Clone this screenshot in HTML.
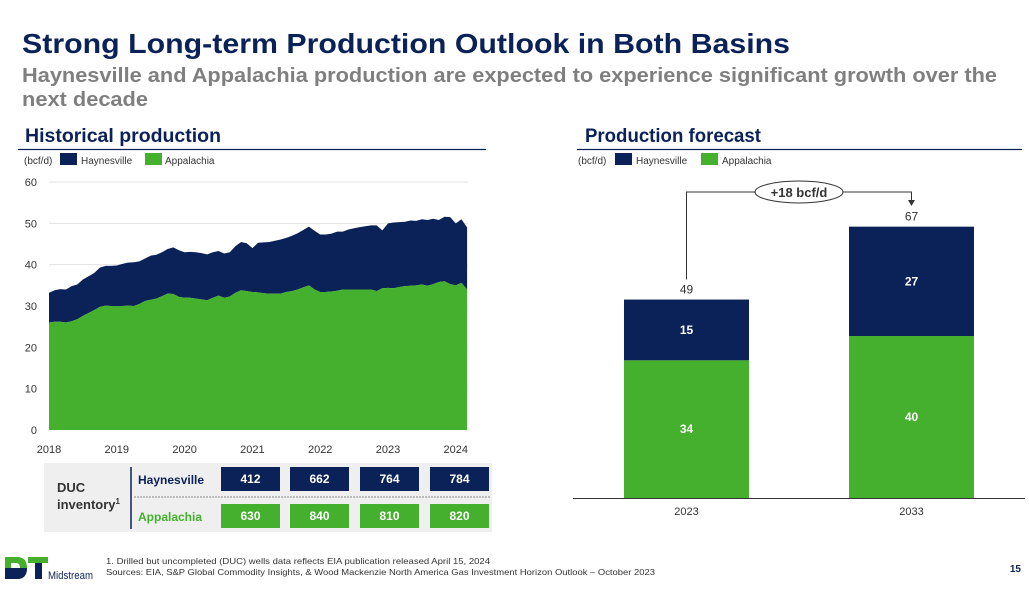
<!DOCTYPE html>
<html><head><meta charset="utf-8"><style>
html,body{margin:0;padding:0;background:#fff;}
svg{display:block;font-family:"Liberation Sans",sans-serif;}
</style></head><body>
<svg id="page" width="1029" height="606" viewBox="0 0 1029 606" xmlns="http://www.w3.org/2000/svg">
<text x="22" y="53" font-size="28" font-weight="bold" fill="#0b2259" textLength="768" lengthAdjust="spacingAndGlyphs">Strong Long-term Production Outlook in Both Basins</text>
<text x="22" y="82" font-size="20" font-weight="bold" fill="#7f7f7f" textLength="975" lengthAdjust="spacingAndGlyphs">Haynesville and Appalachia production are expected to experience significant growth over the</text>
<text x="22" y="106" font-size="20" font-weight="bold" fill="#7f7f7f" textLength="126" lengthAdjust="spacingAndGlyphs">next decade</text>

<text x="25" y="142" font-size="19" font-weight="bold" fill="#0b2259" textLength="196" lengthAdjust="spacingAndGlyphs">Historical production</text>
<line x1="18" y1="149.5" x2="486" y2="149.5" stroke="#0b2259" stroke-width="1.2"/>
<text x="585" y="142" font-size="19" font-weight="bold" fill="#0b2259" textLength="176" lengthAdjust="spacingAndGlyphs">Production forecast</text>
<line x1="577" y1="149.5" x2="1022" y2="149.5" stroke="#0b2259" stroke-width="1.2"/>

<g font-size="10" fill="#333">
<text x="24" y="164">(bcf/d)</text>
<rect x="60" y="153" width="17" height="12" fill="#0b2259"/><text x="81" y="164">Haynesville</text>
<rect x="145" y="153" width="17" height="12" fill="#44b02d"/><text x="165" y="164">Appalachia</text>
</g>
<g font-size="10" fill="#333">
<text x="578" y="164">(bcf/d)</text>
<rect x="615" y="153" width="17" height="12" fill="#0b2259"/><text x="636" y="164">Haynesville</text>
<rect x="701" y="153" width="17" height="12" fill="#44b02d"/><text x="722" y="164">Appalachia</text>
</g>

<g id="hist"></g>
<g id="fc"></g>

<g>
<rect x="44" y="463" width="448" height="69" fill="#efefef"/>
<line x1="131" y1="467" x2="131" y2="529" stroke="#0b2259" stroke-width="1.5"/>
<line x1="134" y1="497" x2="491" y2="497" stroke="#888" stroke-width="1" stroke-dasharray="2,1"/>
<text x="57" y="492" font-size="13" font-weight="bold" fill="#333">DUC</text>
<text x="57" y="509" font-size="13" font-weight="bold" fill="#333">inventory<tspan font-size="8" dy="-5">1</tspan></text>
<text x="138" y="484" font-size="12" font-weight="bold" fill="#0b2259">Haynesville</text>
<text x="138" y="521" font-size="12" font-weight="bold" fill="#44b02d">Appalachia</text>
<g id="duc"></g>
</g>

<g>
<path d="M5 557 h12 q10 0 10 11 q0 11 -10 11 h-12 z M11 563 v10 h5 q4 0 4 -5 q0 -5 -4 -5 z" fill="#44b02d" fill-rule="evenodd"/>
<rect x="5" y="568" width="22" height="11" fill="#0b2259" opacity="0"/>
<path d="M5 568 h22 q0 11 -10 11 h-12 z" fill="#0b2259"/>
<rect x="28" y="557" width="20" height="6" fill="#44b02d"/>
<rect x="35" y="563" width="7" height="16" fill="#0b2259"/>
<text x="48" y="579" font-size="11" fill="#0b2259" textLength="45" lengthAdjust="spacingAndGlyphs">Midstream</text>
</g>
<text x="106" y="564" font-size="8.5" fill="#333" textLength="384" lengthAdjust="spacingAndGlyphs">1. Drilled but uncompleted (DUC) wells data reflects EIA publication released April 15, 2024</text>
<text x="106" y="575" font-size="8.5" fill="#333" textLength="549" lengthAdjust="spacingAndGlyphs">Sources: EIA, S&amp;P Global Commodity Insights, &amp; Wood Mackenzie North America Gas Investment Horizon Outlook – October 2023</text>
<text x="1021" y="572" font-size="10" font-weight="bold" fill="#0b2259" text-anchor="end">15</text>
</svg>
<script>
// Historical monthly production, Jan 2018 - Mar 2024 (bcf/d)
const histStartYear = 2018;
const histAppalachia = [
26.0,26.2,26.2,26.0,26.3,26.8,27.6,28.3,29.0,29.8,30.1,30.0,
30.0,30.0,30.1,30.0,30.5,31.2,31.5,31.8,32.4,33.0,32.9,32.2,
32.0,32.0,31.8,31.6,31.4,32.0,32.5,32.0,32.3,33.2,33.8,33.6,
33.4,33.3,33.1,33.0,33.0,33.0,33.4,33.6,34.0,34.5,35.0,34.0,
33.4,33.4,33.5,33.7,34.0,34.0,34.0,34.0,34.0,34.0,33.6,34.3,
34.4,34.3,34.6,34.8,34.9,35.0,35.2,34.9,35.3,35.8,36.0,35.3,
35.0,35.6,34.0];
const histHaynesville = [
7.2,7.6,7.9,8.0,8.5,8.4,8.8,8.9,9.0,9.5,9.6,9.7,
9.8,10.2,10.4,10.6,10.3,10.3,10.7,10.6,10.6,10.8,11.3,11.3,
11.0,11.1,11.2,11.2,11.1,11.0,10.8,10.7,10.7,11.3,11.7,11.6,
10.6,12.0,12.3,12.5,12.8,13.1,13.1,13.4,13.6,13.9,14.2,14.2,
13.9,13.9,14.0,14.3,14.0,14.5,14.8,15.1,15.3,15.5,15.9,14.0,
15.6,15.9,15.7,15.6,15.8,15.6,15.8,15.9,15.8,15.0,15.6,16.2,
15.0,15.4,15.0];
const histYTicks = [0,10,20,30,40,50,60];
const histXTicks = [2018,2019,2020,2021,2022,2023,2024];

// Forecast
const fcCategories = ["2023","2033"];
const fcAppalachia = [34,40];
const fcHaynesville = [15,27];
const fcTotals = [49,67];
const fcDelta = "+18 bcf/d";

// DUC inventory
const ducHaynesville = [412,662,764,784];
const ducAppalachia = [630,840,810,820];

const NS="http://www.w3.org/2000/svg";
function mk(tag,attrs,parent,text){const e=document.createElementNS(NS,tag);for(const k in attrs)e.setAttribute(k,attrs[k]);if(text!==undefined)e.textContent=text;parent.appendChild(e);return e;}

// Historical chart
const hist=document.getElementById('hist');
const hx=yr=>49+(yr-2018)*67.8;
const hy=v=>430-v*4.133;
histYTicks.forEach(t=>{
  if(t>0){const g=mk('line',{x1:49,x2:468,y1:hy(t),y2:hy(t),stroke:'#e3e3e3','stroke-width':1},hist);
  
  }
  const l=mk('text',{x:37,y:hy(t)+4,'font-size':11,fill:'#333','text-anchor':'end'},hist,String(t));
  
  
});
histXTicks.forEach(t=>{
  const l=mk('text',{x:hx(t),y:453,'font-size':11,fill:'#333','text-anchor':'middle'},hist,String(t));
  
  
});
const n=histAppalachia.length;
const xs=histAppalachia.map((_,i)=>hx(histStartYear+i/12));
let appPts=[],totPts=[];
for(let i=0;i<n;i++){appPts.push(xs[i]+','+hy(histAppalachia[i]));totPts.push(xs[i]+','+hy(histAppalachia[i]+histHaynesville[i]));}
const hayArea=mk('polygon',{points:totPts.join(' ')+' '+appPts.slice().reverse().join(' '),fill:'#0b2259'},hist);


const appArea=mk('polygon',{points:appPts.join(' ')+' '+xs[n-1]+','+hy(0)+' '+xs[0]+','+hy(0),fill:'#44b02d'},hist);



// Forecast chart
const fc=document.getElementById('fc');
const fx=[624,849], bw=125, base=498, k=4.05;
const fy=v=>base-v*k;
fcCategories.forEach((c,i)=>{
  const a=mk('rect',{x:fx[i],y:fy(fcAppalachia[i]),width:bw,height:fcAppalachia[i]*k,fill:'#44b02d'},fc);
  
  
  const h=mk('rect',{x:fx[i],y:fy(fcAppalachia[i]+fcHaynesville[i]),width:bw,height:fcHaynesville[i]*k,fill:'#0b2259'},fc);
  
  
  const cx=fx[i]+bw/2;
  const la=mk('text',{x:cx,y:fy(fcAppalachia[i]/2)+4,'font-size':12,'font-weight':'bold',fill:'#fff','text-anchor':'middle'},fc,String(fcAppalachia[i]));
  
  
  const lh=mk('text',{x:cx,y:fy(fcAppalachia[i]+fcHaynesville[i]/2)+4,'font-size':12,'font-weight':'bold',fill:'#fff','text-anchor':'middle'},fc,String(fcHaynesville[i]));
  
  
  const lt=mk('text',{x:cx,y:fy(fcTotals[i])-6,'font-size':12,fill:'#333','text-anchor':'middle'},fc,String(fcTotals[i]));
  
  
  const xl=mk('text',{x:cx,y:515,'font-size':11,fill:'#333','text-anchor':'middle'},fc,c);
  
  
});
const ax=mk('line',{x1:573,x2:1025,y1:base+0.5,y2:base+0.5,stroke:'#333','stroke-width':1},fc);


const c0=fx[0]+bw/2,c1=fx[1]+bw/2;
const conn=mk('polyline',{points:`${c0},${fy(fcTotals[0])-20} ${c0},192 ${c1},192 ${c1},202`,fill:'none',stroke:'#333','stroke-width':1},fc);


mk('polygon',{points:`${c1-3.5},200 ${c1+3.5},200 ${c1},206`,fill:'#333'},fc);
const ell=mk('ellipse',{cx:799,cy:192,rx:44,ry:11,fill:'#fff',stroke:'#333','stroke-width':1},fc);


const dl=mk('text',{x:799,y:197,'font-size':13,'font-weight':'bold',fill:'#333','text-anchor':'middle'},fc,fcDelta);



// DUC boxes
const duc=document.getElementById('duc');
const bx=[221,290,360,430];
[[ducHaynesville,467,'#0b2259'],[ducAppalachia,504,'#44b02d']].forEach(([arr,y,col],r)=>{
  arr.forEach((v,i)=>{
    const b=mk('rect',{x:bx[i],y:y,width:59,height:24,fill:col},duc);
    
    
    const t=mk('text',{x:bx[i]+29.5,y:y+16,'font-size':12,'font-weight':'bold',fill:'#fff','text-anchor':'middle'},duc,String(v));
    
    
  });
});
</script>
</body></html>
